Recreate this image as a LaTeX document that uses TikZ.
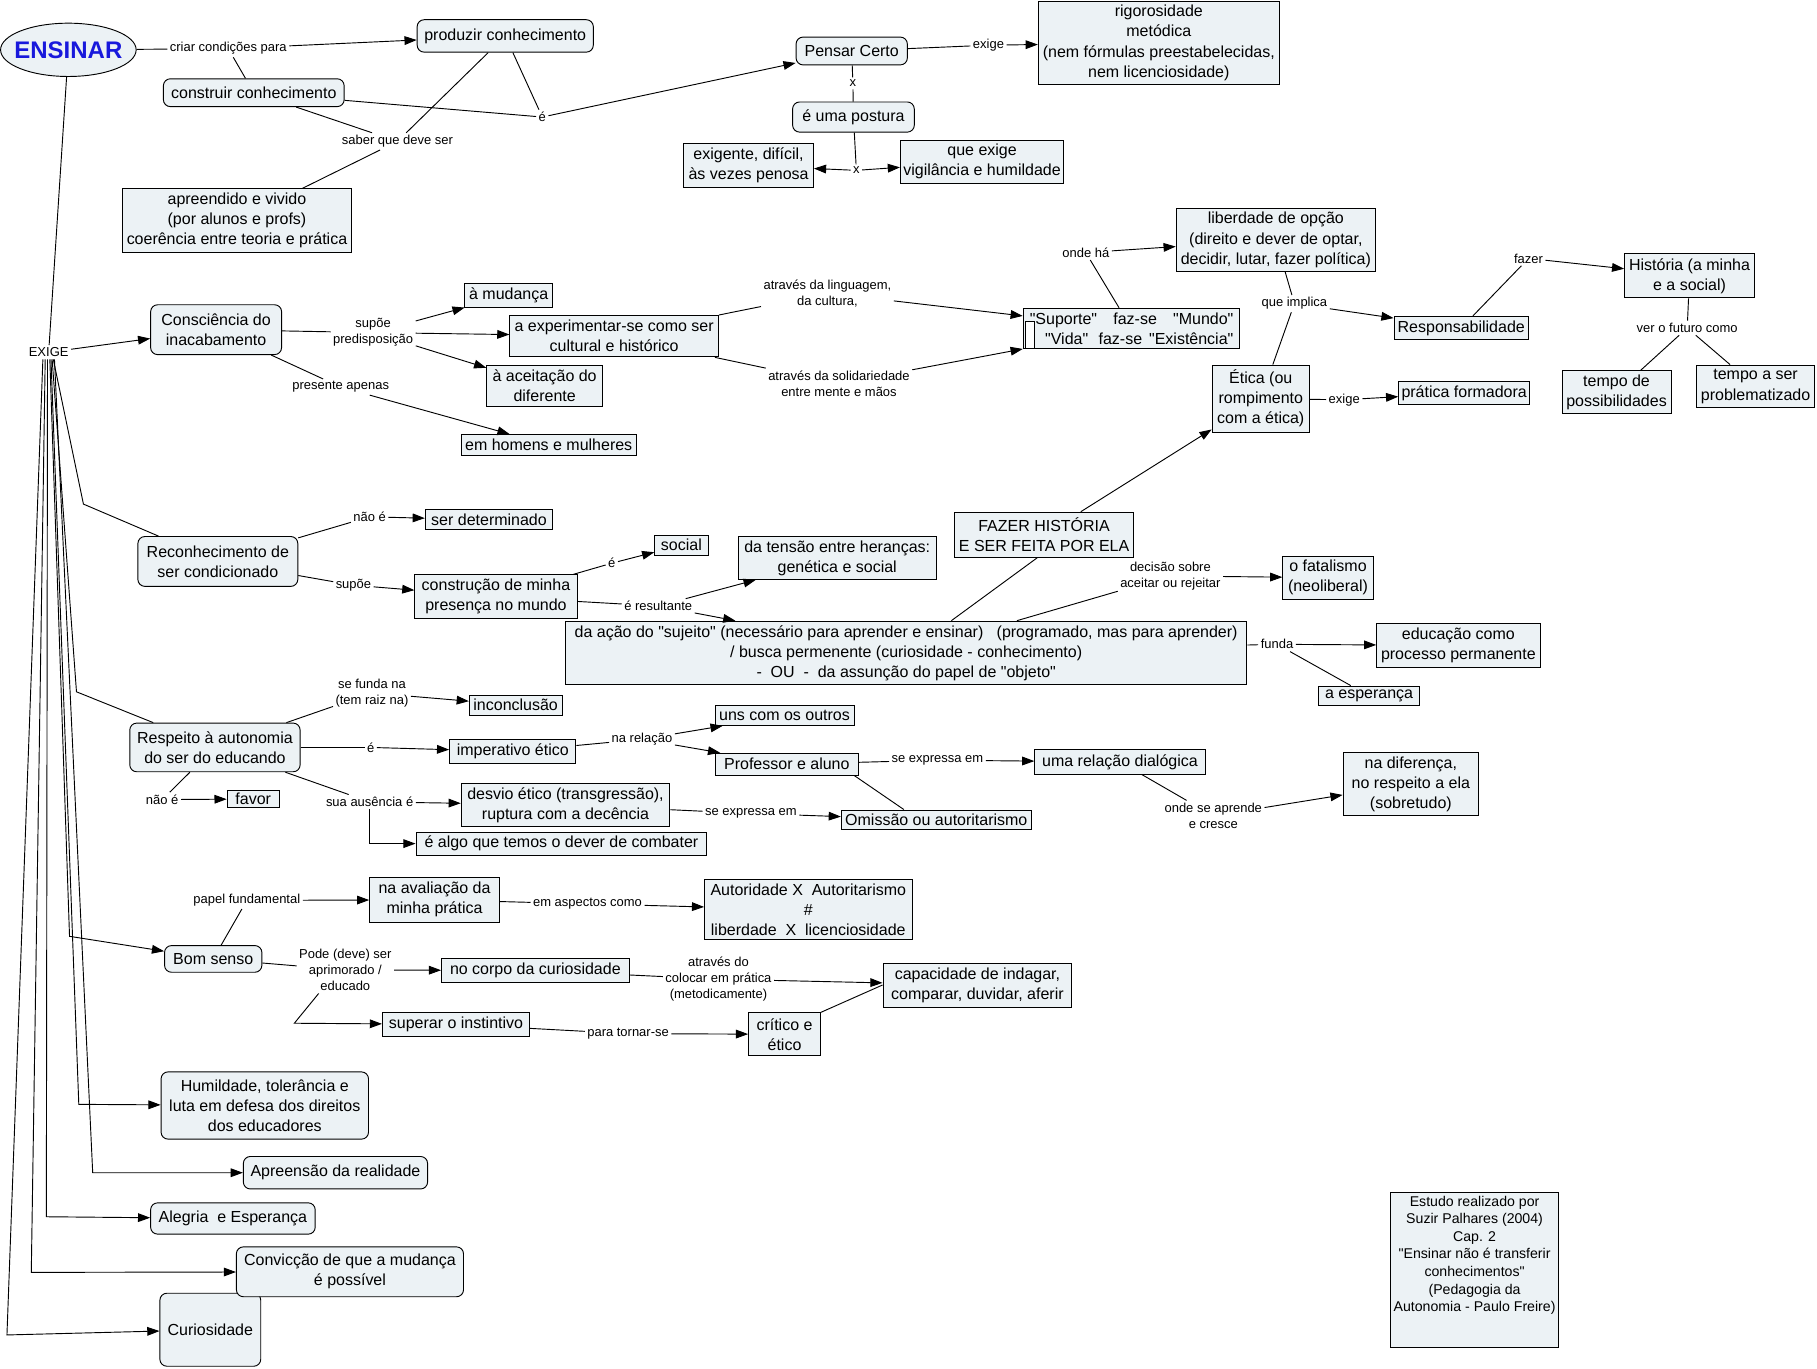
\documentclass[tikz,border=0pt]{standalone}
\usepackage{fontspec}
\setmainfont{Liberation Sans}[Ligatures=TeXOff]
\usetikzlibrary{arrows.meta,shapes.geometric,calc}
\definecolor{nodefill}{RGB}{236,242,245}
\definecolor{ensblue}{RGB}{25,25,220}
\newcommand{\mynodefont}{\fontsize{13.8}{17.3}\selectfont}
\newcommand{\mylblfont}{\fontsize{11.2}{14}\selectfont}
\begin{document}
\begin{tikzpicture}[x=1pt,y=-1pt,
  box/.style={draw, line width=0.8pt, fill=nodefill, inner sep=1pt, align=center, font=\mynodefont},
  rbox/.style={box, rounded corners=6pt},
  lbl/.style={inner sep=2pt, align=center, font=\mylblfont},
  con/.style={line width=0.8pt},
  arr/.style={con, -{Triangle[length=10.5pt,width=7.5pt]}}]
\fill[white] (0,0) rectangle (1568,1181);
\useasboundingbox (0,0) rectangle (1568,1181);

% ---------- concept nodes ----------
\node[ellipse, draw, line width=0.8pt, fill=nodefill, minimum width=117, minimum height=46, inner xsep=-12pt, inner ysep=-6pt,
      font=\fontsize{20.7}{24}\selectfont\bfseries, text=ensblue] (ensinar) at (59,43) {ENSINAR};
\node[rbox, minimum width=152, minimum height=28] (produzir) at (436,31) {produzir conhecimento};
\node[rbox, minimum width=156, minimum height=24] (construir) at (219,80) {construir conhecimento};
\node[box, minimum width=197, minimum height=55] (apreendido) at (204.5,190.5) {apreendido e vivido\\(por alunos e profs)\\coerência entre teoria e prática};
\node[rbox, minimum width=96, minimum height=24] (pensar) at (735,44) {Pensar Certo};
\node[box, minimum width=208, minimum height=72] (rigor) at (1000,37) {rigorosidade\\metódica\\(nem fórmulas preestabelecidas,\\nem licenciosidade)};
\node[rbox, minimum width=105, minimum height=26] (postura) at (736.5,101) {é uma postura};
\node[box, minimum width=112, minimum height=38] (exigente) at (646,143) {exigente, difícil,\\às vezes penosa};
\node[box, minimum width=141, minimum height=37] (queexige) at (847.5,139.5) {que exige\\vigilância e humildade};

\node[rbox, minimum width=113, minimum height=43] (consc) at (186.5,284.5) {Consciência do\\inacabamento};
\node[box, minimum width=76, minimum height=20] (mudanca) at (439,255) {à mudança};
\node[box, minimum width=180, minimum height=36] (experim) at (530,290) {a experimentar-se como ser\\cultural e histórico};
\node[box, minimum width=100, minimum height=36] (aceit) at (470,333) {à aceitação do\\diferente};
\node[box, minimum width=151, minimum height=18] (homens) at (473.5,384) {em homens e mulheres};
\node[box, minimum width=187, minimum height=35, align=right] (suporte) at (976.5,283.5)
  {"Suporte"\hspace{14pt}faz-se\hspace{14pt}"Mundo"\\"Vida"\hspace{9pt}faz-se\hspace{6pt}"Existência"};
\node[draw, fill=white, line width=0.6pt, minimum width=8, minimum height=24, inner sep=0] (cursor) at (889,289) {};
\node[box, minimum width=172, minimum height=54] (liberdade) at (1101,207) {liberdade de opção\\(direito e dever de optar,\\decidir, lutar, fazer política)};
\node[box, minimum width=116, minimum height=20] (respons) at (1261,283) {Responsabilidade};
\node[box, minimum width=112, minimum height=38] (historia) at (1458,238) {História (a minha\\e a social)};
\node[box, minimum width=94, minimum height=37] (tempoposs) at (1395,338.5) {tempo de\\possibilidades};
\node[box, minimum width=102, minimum height=37] (temposer) at (1515,333.5) {tempo a ser\\problematizado};
\node[box, minimum width=84, minimum height=58] (etica) at (1088,344) {Ética (ou\\rompimento\\com a ética)};
\node[box, minimum width=113, minimum height=20] (pratica) at (1263.5,339) {prática formadora};

\node[rbox, minimum width=138, minimum height=43] (reconh) at (188,484.5) {Reconhecimento de\\ser condicionado};
\node[box, minimum width=110, minimum height=17] (serdet) at (422,448.5) {ser determinado};
\node[box, minimum width=140, minimum height=38] (construcao) at (428,515) {construção de minha\\presença no mundo};
\node[box, minimum width=46, minimum height=17] (social) at (588,470.5) {social};
\node[box, minimum width=171, minimum height=37] (tensao) at (722.5,481.5) {da tensão entre heranças:\\genética e social};
\node[box, minimum width=588, minimum height=55] (acao) at (782,563.5)
  {da ação do "sujeito" (necessário para aprender e ensinar)\ \ \ (programado, mas para aprender)\\/ busca permenente (curiosidade - conhecimento)\\-\ \ OU\ \ -\ \ da assunção do papel de "objeto"};
\node[box, minimum width=154, minimum height=39] (fazerh) at (901,461.5) {FAZER HISTÓRIA\\E SER FEITA POR ELA};
\node[box, minimum width=78, minimum height=37] (fatalismo) at (1146,498.5) {o fatalismo\\(neoliberal)};
\node[box, minimum width=141, minimum height=38] (educacao) at (1258.5,557) {educação como\\processo permanente};
\node[box, minimum width=87, minimum height=17] (esperanca) at (1181.5,600.5) {a esperança};

\node[rbox, minimum width=147, minimum height=42] (respeito) at (185.5,645) {Respeito à autonomia\\do ser do educando};
\node[box, minimum width=80, minimum height=17] (inconcl) at (445,608.5) {inconclusão};
\node[box, minimum width=109, minimum height=21] (imperativo) at (442.5,648.5) {imperativo ético};
\node[box, minimum width=120, minimum height=17] (uns) at (677,617.5) {uns com os outros};
\node[box, minimum width=124, minimum height=19] (professor) at (679,659.5) {Professor e aluno};
\node[box, minimum width=147, minimum height=21] (dialogica) at (966.5,657.5) {uma relação dialógica};
\node[box, minimum width=117, minimum height=55] (diferenca) at (1217.5,676.5) {na diferença,\\no respeito a ela\\(sobretudo)};
\node[box, minimum width=45, minimum height=15] (favor) at (218.5,689.5) {favor};
\node[box, minimum width=180, minimum height=37] (desvio) at (488,694.5) {desvio ético (transgressão),\\ruptura com a decência};
\node[box, minimum width=164, minimum height=17] (omissao) at (808,707.5) {Omissão ou autoritarismo};
\node[box, minimum width=251, minimum height=20] (algo) at (484.5,728) {é algo que temos o dever de combater};

\node[box, minimum width=112, minimum height=39] (avaliacao) at (375,776.5) {na avaliação da\\minha prática};
\node[box, minimum width=179, minimum height=52] (autoridade) at (697.5,785) {Autoridade X\ \ Autoritarismo\\\#\\liberdade\ \ X\ \ licenciosidade};
\node[rbox, minimum width=84, minimum height=23] (bomsenso) at (184,827.5) {Bom senso};
\node[box, minimum width=162, minimum height=21] (corpo) at (462,837.5) {no corpo da curiosidade};
\node[box, minimum width=163, minimum height=38] (capacidade) at (843.5,850) {capacidade de indagar,\\comparar, duvidar, aferir};
\node[box, minimum width=127, minimum height=20] (superar) at (393.5,884) {superar o instintivo};
\node[box, minimum width=62, minimum height=37] (critico) at (677,892.5) {crítico e\\ético};

\node[rbox, minimum width=179, minimum height=58] (humildade) at (228.5,954) {Humildade, tolerância e\\luta em defesa dos direitos\\dos educadores};
\node[rbox, minimum width=159, minimum height=28] (apreensao) at (289.5,1012) {Apreensão da realidade};
\node[rbox, minimum width=142, minimum height=27] (alegria) at (201,1051.5) {Alegria\ \ e Esperança};
\node[rbox, minimum width=87, minimum height=63] (curiosidade) at (181.5,1147.5) {Curiosidade};
\node[rbox, minimum width=196, minimum height=43] (conviccao) at (302,1097.5) {Convicção de que a mudança\\é possível};

\node[box, minimum width=145, minimum height=134, font=\fontsize{12.2}{15.2}\selectfont] (estudo) at (1272.5,1096)
  {Estudo realizado por\\Suzir Palhares (2004)\\Cap. 2\\"Ensinar não é transferir\\conhecimentos"\\(Pedagogia da\\Autonomia - Paulo Freire)\\[13pt]\mbox{}};

% ---------- linking phrases ----------
\node[lbl] (lcriar) at (197,42) {criar condições para};
\node[lbl] (le1) at (468,101) {é};
\node[lbl] (lsaber) at (343,122) {saber que deve ser};
\node[lbl] (lexige1) at (853,39) {exige};
\node[lbl] (lx1) at (736,72) {x};
\node[lbl] (lx2) at (739,147) {x};
\node[lbl] (exige) at (42,304) {EXIGE};
\node[lbl] (lsupoe1) at (322,287) {supõe\\predisposição};
\node[lbl] (lpresente) at (294,334) {presente apenas};
\node[lbl] (lling) at (714,253) {através da linguagem,\\da cultura,};
\node[lbl] (lsolid) at (724,331) {através da solidariedade\\entre mente e mãos};
\node[lbl] (londeha) at (937,218) {onde há};
\node[lbl] (limplica) at (1117,262) {que implica};
\node[lbl] (lfazer) at (1319,223) {fazer};
\node[lbl] (lfuturo) at (1456,283) {ver o futuro como};
\node[lbl] (lexige2) at (1160,345) {exige};
\node[lbl] (lnaoe1) at (319,446) {não é};
\node[lbl] (lsupoe2) at (305,505) {supõe};
\node[lbl] (le2) at (528,486) {é};
\node[lbl] (lresult) at (568,523) {é resultante};
\node[lbl] (ldecisao) at (1010,497) {decisão sobre\\aceitar ou rejeitar};
\node[lbl] (lfunda) at (1102,556) {funda};
\node[lbl] (lsefunda) at (321,598) {se funda na\\(tem raiz na)};
\node[lbl] (le3) at (320,645) {é};
\node[lbl] (lrelacao) at (554,638) {na relação};
\node[lbl] (lexpr1) at (809,656) {se expressa em};
\node[lbl] (laprende) at (1047,704) {onde se aprende\\e cresce};
\node[lbl] (lnaoe2) at (140,690) {não é};
\node[lbl] (lausencia) at (319,692) {sua ausência é};
\node[lbl] (lexpr2) at (648,702) {se expressa em};
\node[lbl] (lpapel) at (213,777) {papel fundamental};
\node[lbl] (laspectos) at (507,780) {em aspectos como};
\node[lbl] (lpode) at (298,837) {Pode (deve) ser\\aprimorado /\\educado};
\node[lbl] (latraves) at (620,845) {através do\\colocar em prática\\(metodicamente)};
\node[lbl] (ltornar) at (542,892) {para tornar-se};

% ---------- bend points ----------
\coordinate (b1) at (72,435);
\coordinate (b2) at (66,597);
\coordinate (b3) at (60,808);
\coordinate (b4) at (68,953);
\coordinate (b5) at (80,1012);
\coordinate (b6) at (40,1050);
\coordinate (b7) at (27,1098);
\coordinate (b8) at (6,1152);
\coordinate (pb) at (254,883);

% ---------- connectors ----------
\draw[con] (ensinar) -- (lcriar);
\draw[arr] (lcriar) -- (produzir);
\draw[con] (lcriar) -- (construir);
\draw[con] (produzir) -- (le1);
\draw[con] (construir) -- (le1);
\draw[arr] (le1) -- (pensar);
\draw[con] (construir) -- (lsaber);
\draw[con] (produzir) -- (lsaber);
\draw[con] (lsaber) -- (apreendido);
\draw[con] (pensar) -- (lexige1);
\draw[arr] (lexige1) -- (rigor);
\draw[con] (pensar) -- (lx1);
\draw[con] (lx1) -- (postura);
\draw[con] (postura) -- (lx2);
\draw[arr] (lx2) -- (exigente);
\draw[arr] (lx2) -- (queexige);

\draw[con] (ensinar) -- (exige);
\draw[arr] (exige) -- (consc);
\draw[con] ([xshift=4pt]exige.south) -- (b1) -- (reconh);
\draw[con] ([xshift=3pt]exige.south) -- (b2) -- (respeito);
\draw[arr] ([xshift=1pt]exige.south) -- (b3) -- (bomsenso);
\draw[arr] ([xshift=2pt]exige.south) -- (b4) -- (humildade);
\draw[arr] ([xshift=5pt]exige.south) -- (b5) -- (apreensao);
\draw[arr] ([xshift=-1pt]exige.south) -- (b6) -- (alegria);
\draw[arr] ([xshift=-3pt]exige.south) -- (b7) -- (conviccao);
\draw[arr] ([xshift=-5pt]exige.south) -- (b8) -- (curiosidade);

\draw[con] (consc) -- (lsupoe1);
\draw[arr] (lsupoe1) -- (mudanca);
\draw[arr] (lsupoe1) -- (experim);
\draw[arr] (lsupoe1) -- (aceit);
\draw[con] (consc) -- (lpresente);
\draw[arr] (lpresente) -- (homens);
\draw[con] (experim) -- (lling);
\draw[arr] (lling) -- (suporte);
\draw[con] (experim) -- (lsolid);
\draw[arr] (lsolid) -- (suporte);
\draw[con] (suporte) -- (londeha);
\draw[arr] (londeha) -- (liberdade);
\draw[con] (liberdade) -- (limplica);
\draw[con] (etica) -- (limplica);
\draw[arr] (limplica) -- (respons);
\draw[con] (respons) -- (lfazer);
\draw[arr] (lfazer) -- (historia);
\draw[con] (historia) -- (lfuturo);
\draw[con] (lfuturo) -- (tempoposs);
\draw[con] (lfuturo) -- (temposer);
\draw[con] (etica) -- (lexige2);
\draw[arr] (lexige2) -- (pratica);
\draw[arr] (fazerh) -- (etica);
\draw[con] ([xshift=39pt]acao.north) -- ([xshift=-6pt]fazerh.south);
\draw[con] (acao) -- (ldecisao);
\draw[arr] (ldecisao) -- (fatalismo);
\draw[con] (acao) -- (lfunda);
\draw[arr] (lfunda) -- (educacao);
\draw[con] (lfunda) -- (esperanca);

\draw[con] (reconh) -- (lnaoe1);
\draw[arr] (lnaoe1) -- (serdet);
\draw[con] (reconh) -- (lsupoe2);
\draw[arr] (lsupoe2) -- (construcao);
\draw[con] (construcao) -- (le2);
\draw[arr] (le2) -- (social);
\draw[con] (construcao) -- (lresult);
\draw[arr] (lresult) -- (tensao);
\draw[arr] (lresult) -- (acao);

\draw[con] (respeito) -- (lsefunda);
\draw[arr] (lsefunda) -- (inconcl);
\draw[con] (respeito) -- (le3);
\draw[arr] (le3) -- (imperativo);
\draw[con] (imperativo) -- (lrelacao);
\draw[arr] (lrelacao) -- (uns);
\draw[arr] (lrelacao) -- (professor);
\draw[con] (professor) -- (lexpr1);
\draw[arr] (lexpr1) -- (dialogica);
\draw[con] ([xshift=-4pt]professor.south east) -- ([xshift=-28pt]omissao.north);
\draw[con] (dialogica) -- (laprende);
\draw[arr] (laprende) -- (diferenca);
\draw[con] (respeito) -- (lnaoe2);
\draw[arr] (lnaoe2) -- (favor);
\draw[con] (respeito) -- (lausencia);
\draw[arr] (lausencia) -- (desvio);
\draw[arr] (lausencia.south) |- (algo.west);
\draw[con] (desvio) -- (lexpr2);
\draw[arr] (lexpr2) -- (omissao);

\draw[con] (bomsenso) -- (lpapel);
\draw[arr] (lpapel) -- (avaliacao);
\draw[con] (avaliacao) -- (laspectos);
\draw[arr] (laspectos) -- (autoridade);
\draw[con] (bomsenso) -- (lpode);
\draw[arr] (lpode) -- (corpo);
\draw[arr] ([xshift=-23pt]lpode.south) -- (pb) -- (superar);
\draw[con] (corpo) -- (latraves);
\draw[arr] (latraves) -- (capacidade);
\draw[con] (superar) -- (ltornar);
\draw[arr] (ltornar) -- (critico);
\draw[con] (critico.north east) -- (capacidade.west);
\end{tikzpicture}
\end{document}
